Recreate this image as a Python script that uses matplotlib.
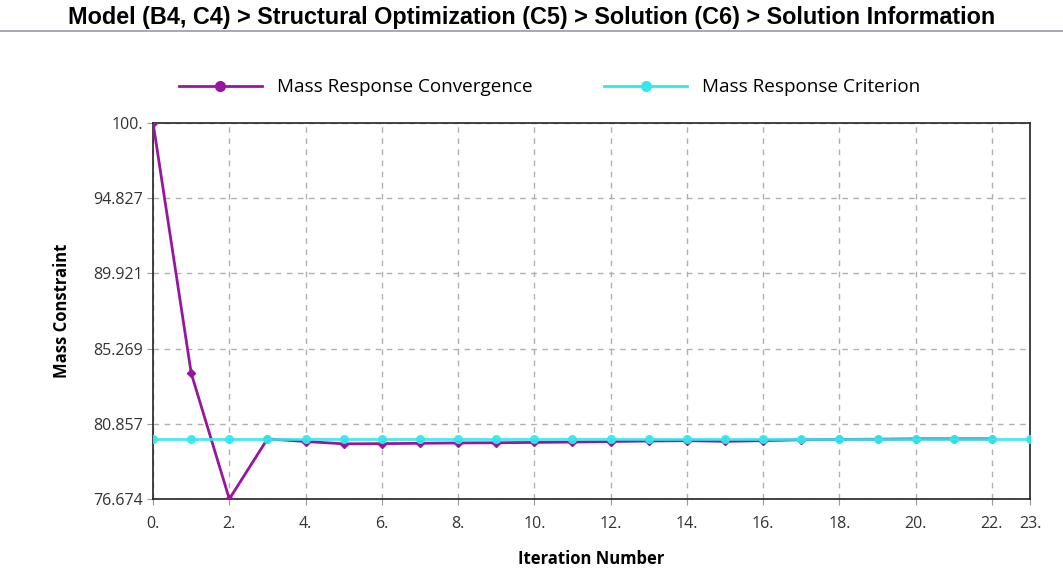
import matplotlib
matplotlib.use('Agg')
from matplotlib import pyplot as plt
from matplotlib.lines import Line2D
from matplotlib.ticker import NullLocator

# iteration numbers and mass values
iteracoes = list(range(24))
convergencia = [100.0, 83.8, 76.674, 80.0, 79.85, 79.72, 79.73, 79.75, 79.77,
                79.78, 79.8, 79.82, 79.85, 79.88, 79.9, 79.86, 79.9, 79.95,
                79.97, 79.98, 80.0, 80.0, 80.0]
criterio = [80.0] * 24
y_ticks = [76.674, 80.857, 85.269, 89.921, 94.827, 100.0]
y_labels = ['76.674', '80.857', '85.269', '89.921', '94.827', '100.']
x_ticks = [0, 2, 4, 6, 8, 10, 12, 14, 16, 18, 20, 22, 23]

titulo = 'Model (B4, C4) > Structural Optimization (C5) > Solution (C6) > Solution Information'

roxo = '#98169f'
ciano = '#33e8ec'

plt.rcParams['font.family'] = ['Open Sans', 'DejaVu Sans']

fig = plt.figure(figsize=(10.63, 5.85), dpi=100)
ax = fig.add_axes([0.144, 0.147, 0.825, 0.643])

fig.text(0.5, 0.97, titulo, ha='center', va='center', fontsize=16.8,
         fontweight='bold', family=['Liberation Sans', 'DejaVu Sans'])
fig.add_artist(Line2D([0, 1], [0.947, 0.947], color='#9a9aa8', linewidth=1.2))

ax.plot(iteracoes[:len(convergencia)], convergencia, color=roxo, linewidth=2,
        marker='D', markersize=4, zorder=3)
ax.plot(iteracoes, criterio, color=ciano, linewidth=2, alpha=0.9,
        marker='o', markersize=5.5, zorder=4)

ax.set_yscale('log')
ax.set_ylim(76.674, 100.0)
ax.set_xlim(0, 23)
ax.set_yticks(y_ticks)
ax.set_yticklabels(y_labels)
ax.yaxis.set_minor_locator(NullLocator())
ax.set_xticks(x_ticks)
ax.set_xticklabels([f'{x}.' for x in x_ticks])
ax.tick_params(labelsize=11.5, colors='#333333', length=4, color='#999999')
ax.tick_params(axis='x', pad=8)

ax.grid(True, linestyle=(0, (4, 4)), color='#b0b0b0', linewidth=1)
for s in ax.spines.values():
    s.set_color('#222222')
    s.set_linewidth(1.2)

ax.set_xlabel('Iteration Number', fontsize=12, fontweight='bold', labelpad=13)
ax.set_ylabel('Mass Constraint', fontsize=12, fontweight='bold', labelpad=16)

handles = [Line2D([], [], color=roxo, linewidth=2, marker='o', markersize=7),
           Line2D([], [], color=ciano, linewidth=2, marker='o', markersize=7)]
fig.legend(handles, ['Mass Response Convergence', 'Mass Response Criterion'],
           loc='center left', bbox_to_anchor=(0.152, 0.851), ncol=2,
           frameon=False, fontsize=13.6, handlelength=4.4, columnspacing=3.8)

fig.savefig('out.png', dpi=100, facecolor='white')
